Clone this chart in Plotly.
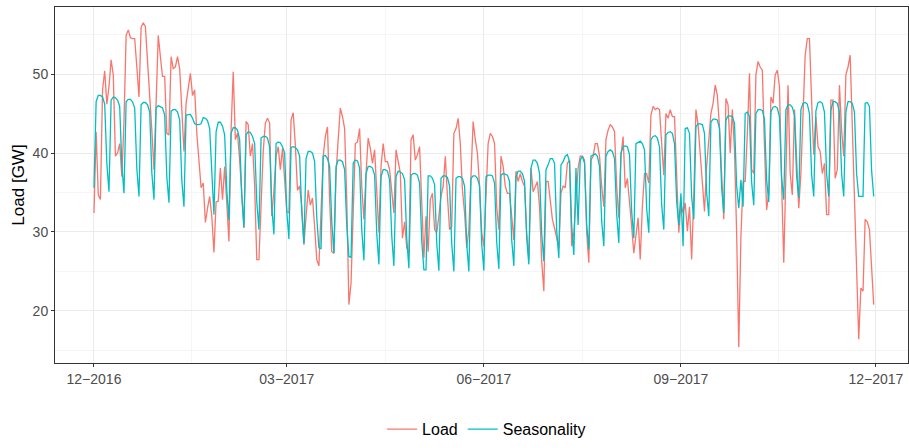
import pandas as pd
import plotly.graph_objects as go

# daily series, starting 1 Dec 2016
start_date = "2016-12-01"

load = [
    32.4, 42.7, 34.7, 34.1, 48.0, 50.4, 46.2,
    48.4, 51.8, 49.9, 39.6, 40.0, 41.2, 37.0,
    44.0, 54.9, 55.6, 54.6, 54.5, 54.5, 50.9,
    47.1, 55.9, 56.5, 56.0, 51.8, 48.4, 42.9,
    37.9, 46.7, 54.9, 52.2, 49.7, 49.7, 42.5,
    42.3, 52.2, 50.7, 50.9, 52.2, 50.7, 45.5,
    40.2, 46.3, 48.4, 50.1, 47.3, 48.0, 42.5,
    39.1, 35.6, 36.2, 31.2, 33.0, 34.5, 32.0,
    27.4, 33.8, 33.9, 38.1, 34.1, 38.3, 33.4,
    28.8, 42.9, 50.3, 41.7, 42.5, 39.1, 34.5,
    30.5, 44.0, 43.6, 39.6, 41.2, 35.8, 26.5,
    26.5, 34.5, 40.2, 43.8, 44.4, 43.8, 32.0,
    35.3, 39.6, 40.8, 37.9, 40.6, 36.6, 32.6,
    32.4, 44.2, 45.1, 41.0, 35.3, 35.8, 33.2,
    28.4, 32.0, 35.3, 33.4, 34.3, 30.7, 26.5,
    25.7, 33.2, 39.6, 42.1, 43.3, 34.1, 27.5,
    27.3, 37.4, 41.7, 45.7, 44.6, 43.1, 34.1,
    20.8, 23.5, 33.2, 41.2, 41.4, 43.1, 35.8,
    31.6, 37.4, 41.9, 40.6, 38.7, 40.4, 35.3,
    29.9, 38.3, 41.2, 38.9, 38.9, 37.9, 35.3,
    32.4, 40.4, 39.1, 37.5, 29.2, 31.3, 28.0,
    27.3, 41.7, 42.3, 39.1, 39.8, 40.8, 33.2,
    26.7, 32.0, 27.5, 34.1, 34.9, 30.3, 29.9,
    32.0, 34.5, 35.8, 39.6, 34.5, 30.3, 30.7,
    42.5, 43.1, 44.4, 41.2, 35.3, 32.4, 28.0,
    30.3, 37.4, 44.0, 41.7, 40.0, 35.8, 29.9,
    28.2, 35.8, 41.2, 42.5, 42.1, 41.2, 33.2,
    30.3, 39.6, 38.3, 35.8, 34.9, 34.9, 32.0,
    29.0, 37.7, 36.4, 37.4, 36.4, 35.8, 29.9,
    26.5, 38.1, 35.1, 35.8, 36.4, 33.2, 26.3,
    22.5, 36.4, 36.4, 34.1, 31.6, 30.5, 29.0,
    28.0, 34.9, 35.8, 35.6, 38.7, 39.1, 28.2,
    29.9, 33.7, 38.1, 39.6, 39.6, 39.1, 29.9,
    26.1, 39.1, 39.6, 41.2, 41.2, 39.6, 35.8,
    33.2, 41.7, 42.9, 43.6, 43.3, 42.7, 35.8,
    31.8, 39.6, 42.1, 35.6, 36.8, 33.2, 30.7,
    27.3, 29.9, 31.8, 26.5, 33.2, 37.4, 37.4,
    36.2, 44.8, 45.9, 45.5, 45.7, 45.5, 41.2,
    37.2, 45.0, 44.4, 45.5, 44.6, 44.6, 35.8,
    29.9, 33.7, 32.4, 33.7, 30.1, 33.2, 26.5,
    34.5, 45.5, 43.6, 40.0, 35.8, 32.6, 38.3,
    41.2, 45.0, 46.3, 48.6, 47.3, 43.3, 37.4,
    31.6, 46.9, 46.1, 40.0, 45.5, 40.4, 29.9,
    15.4, 29.4, 36.4, 36.4, 42.5, 50.1, 37.9,
    37.4, 49.9, 51.6, 50.9, 50.5, 40.8, 32.8,
    34.9, 47.1, 46.3, 49.9, 50.5, 48.4, 36.2,
    26.1, 37.4, 48.6, 37.4, 34.7, 45.5, 39.6,
    33.0, 37.4, 45.5, 52.4, 54.5, 54.5, 46.7,
    39.8, 44.6, 40.8, 40.2, 37.4, 38.7, 32.2,
    32.2, 46.7, 46.7, 36.8, 37.9, 48.6, 42.9,
    39.6, 49.9, 50.9, 52.4, 43.0, 34.0, 25.0,
    16.4, 22.9, 22.5, 31.6, 31.3, 30.3, 25.7,
    20.8,
]

seasonality = [
    35.6, 46.5, 47.3, 47.3, 47.1, 46.2, 38.7,
    35.1, 46.7, 47.1, 47.0, 46.7, 45.9, 38.5,
    34.9, 46.5, 46.8, 46.8, 46.5, 45.7, 38.0,
    34.5, 46.1, 46.4, 46.4, 46.1, 45.2, 37.5,
    34.1, 45.7, 46.0, 45.9, 45.7, 44.8, 37.0,
    33.7, 45.3, 45.5, 45.5, 45.2, 44.2, 36.5,
    33.2, 44.8, 44.9, 44.9, 44.4, 43.7, 43.6,
    43.6, 43.7, 44.5, 44.4, 44.1, 43.1, 37.0,
    32.2, 42.7, 43.9, 43.9, 43.4, 42.3, 35.3,
    31.5, 42.5, 43.2, 43.2, 42.9, 41.7, 34.5,
    30.6, 42.3, 42.7, 42.6, 42.1, 41.2, 33.8,
    30.3, 41.9, 42.1, 42.1, 41.9, 40.8, 33.2,
    29.7, 41.2, 41.4, 41.3, 40.8, 40.0, 32.6,
    29.1, 40.7, 40.8, 40.7, 40.4, 39.6, 32.5,
    28.5, 39.3, 40.2, 40.2, 40.0, 38.9, 31.8,
    28.0, 27.9, 39.6, 39.7, 39.3, 38.3, 31.3,
    27.3, 38.3, 39.1, 39.1, 38.9, 37.9, 30.8,
    26.9, 26.8, 38.7, 39.1, 39.0, 38.1, 30.3,
    26.4, 37.4, 38.3, 38.3, 38.1, 37.2, 29.8,
    25.9, 37.0, 37.9, 37.9, 37.7, 36.6, 29.5,
    25.7, 37.0, 37.7, 37.6, 37.4, 36.6, 29.2,
    25.4, 37.2, 37.4, 37.4, 37.2, 36.2, 28.9,
    25.2, 25.2, 37.1, 37.1, 36.8, 36.0, 28.6,
    25.1, 36.8, 37.1, 37.1, 36.9, 35.8, 28.5,
    25.0, 36.8, 37.0, 37.0, 36.8, 35.8, 28.5,
    25.0, 36.8, 37.1, 37.1, 36.8, 35.8, 28.5,
    25.1, 37.0, 37.2, 37.2, 37.1, 36.2, 28.7,
    25.3, 37.2, 37.4, 37.3, 37.2, 36.4, 29.0,
    25.7, 37.0, 37.7, 37.7, 37.4, 36.4, 29.2,
    25.9, 38.1, 39.1, 39.1, 38.7, 37.4, 29.8,
    26.3, 37.9, 38.5, 39.3, 39.3, 38.7, 30.2,
    26.7, 38.5, 38.9, 39.6, 39.8, 38.9, 30.8,
    27.1, 38.1, 30.9, 39.1, 39.6, 38.7, 31.0,
    27.8, 39.6, 39.8, 39.9, 39.6, 38.3, 31.4,
    28.2, 39.6, 40.2, 40.4, 40.2, 39.3, 32.3,
    28.6, 40.0, 40.8, 40.9, 40.8, 39.8, 32.6,
    29.2, 41.2, 41.4, 41.5, 41.2, 40.4, 33.0,
    29.9, 41.7, 42.1, 42.2, 41.9, 40.8, 33.5,
    30.3, 42.3, 42.6, 42.7, 42.5, 41.2, 33.9,
    30.9, 34.9, 28.2, 43.1, 43.2, 42.5, 34.5,
    31.6, 43.3, 43.7, 43.7, 43.6, 42.5, 35.0,
    32.0, 43.9, 44.3, 44.3, 44.2, 43.1, 35.6,
    32.4, 44.2, 44.7, 44.7, 44.6, 43.8, 35.9,
    33.0, 36.6, 33.2, 45.0, 45.2, 44.6, 36.3,
    33.4, 45.0, 45.5, 45.5, 45.4, 44.3, 36.6,
    33.8, 45.2, 45.8, 45.9, 45.7, 44.6, 36.9,
    34.1, 45.5, 46.1, 46.1, 45.8, 44.8, 37.1,
    34.3, 45.5, 46.3, 46.4, 46.2, 45.0, 37.3,
    34.5, 45.3, 46.4, 46.5, 46.3, 45.2, 37.4,
    34.5, 45.4, 46.5, 46.5, 46.3, 45.2, 37.4,
    34.5, 45.2, 46.5, 46.5, 46.3, 45.2, 37.4,
    34.5, 34.5, 34.5, 46.3, 46.4, 45.9, 37.8,
    34.5,
]

dates = pd.date_range(start_date, periods=len(load), freq="D")

tick_dates = ["2016-12-01", "2017-03-01", "2017-06-01", "2017-09-01", "2017-12-01"]
tick_labels = ["12\u22122016", "03\u22122017", "06\u22122017", "09\u22122017", "12\u22122017"]
minor_dates = ["2017-01-15 12:00", "2017-04-16", "2017-07-17", "2017-10-16 12:00"]

fig = go.Figure()
fig.add_trace(go.Scatter(x=dates, y=load, mode="lines", name="Load",
                         line=dict(color="#F8766D", width=1.3)))
fig.add_trace(go.Scatter(x=dates, y=seasonality, mode="lines", name="Seasonality",
                         line=dict(color="#00BFC4", width=1.3)))

x0 = pd.Timestamp(start_date) - pd.Timedelta(days=18.2)
x1 = pd.Timestamp(start_date) + pd.Timedelta(days=380)

fig.update_layout(
    width=909, height=448,
    margin=dict(l=55, r=1, t=7, b=85),
    paper_bgcolor="white", plot_bgcolor="white",
    font=dict(family="Liberation Sans, Arial, sans-serif", color="#4D4D4D", size=14),
    showlegend=True,
    legend=dict(orientation="h", x=0.506, xanchor="center", y=-0.234, yanchor="bottom",
                font=dict(size=16, color="black"), itemwidth=30, tracegroupgap=0),
    xaxis=dict(
        type="date", range=[x0, x1], automargin=False,
        tickmode="array", tickvals=tick_dates, ticktext=tick_labels,
        ticks="outside", ticklen=3, tickcolor="#333333",
        showgrid=True, gridcolor="#EBEBEB", gridwidth=1,
        minor=dict(tickmode="array", tickvals=minor_dates, showgrid=True,
                   gridcolor="#F5F5F5", gridwidth=1, ticks=""),
        showline=True, linecolor="#333333", linewidth=1, mirror=True,
        zeroline=False,
    ),
    yaxis=dict(
        range=[13.4, 58.5], automargin=False,
        tickmode="array", tickvals=[20, 30, 40, 50],
        ticks="outside", ticklen=3, tickcolor="#333333",
        showgrid=True, gridcolor="#EBEBEB", gridwidth=1,
        minor=dict(tickmode="array", tickvals=[15, 25, 35, 45, 55], showgrid=True,
                   gridcolor="#F5F5F5", gridwidth=1, ticks=""),
        showline=True, linecolor="#333333", linewidth=1, mirror=True,
        zeroline=False,
        title=dict(text="Load [GW]", font=dict(size=17, color="black"), standoff=3),
    ),
)

# the page's default 8px body margin would shift the figure
fig.write_html("out.html", config={"displayModeBar": False},
               post_script="document.body.style.margin = '0px';")
